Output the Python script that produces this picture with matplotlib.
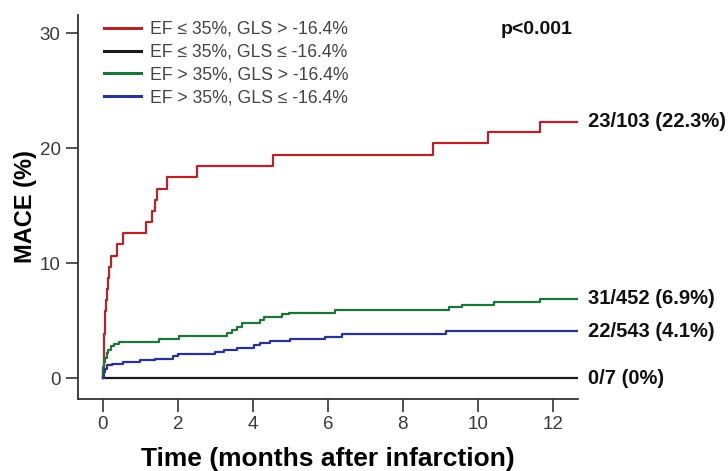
import matplotlib
matplotlib.use("Agg")
import matplotlib.pyplot as plt

plt.rcParams["font.family"] = ["Liberation Sans", "DejaVu Sans"]

# cumulative MACE (%) step curves
red_t = [0, 0.01, 0.02, 0.03, 0.04, 0.05, 0.07, 0.09, 0.11, 0.14, 0.17, 0.22, 0.39, 0.55,
         1.15, 1.31, 1.38, 1.44, 1.72, 2.52, 4.55, 8.8, 10.28, 11.66]
red_y = [0, 0.97, 1.94, 2.91, 3.88, 4.85, 5.83, 6.8, 7.77, 8.74, 9.71, 10.68, 11.65, 12.62,
         13.59, 14.56, 15.53, 16.5, 17.48, 18.45, 19.44, 20.45, 21.4, 22.3]

black_t = [0]
black_y = [0]

green_t = [0, 0.01, 0.03, 0.06, 0.1, 0.15, 0.22, 0.3, 0.42, 1.51, 2.02, 3.31, 3.44, 3.57,
           3.71, 4.2, 4.29, 4.78, 4.97, 6.2, 9.23, 9.59, 10.43, 11.66]
green_y = [0, 0.9, 1.42, 1.8, 2.2, 2.5, 2.8, 3.0, 3.17, 3.4, 3.66, 3.9, 4.18, 4.5,
           4.82, 5.1, 5.35, 5.55, 5.72, 5.93, 6.16, 6.36, 6.6, 6.9]

blue_t = [0, 0.02, 0.06, 0.12, 0.25, 0.55, 0.99, 1.39, 1.88, 2.0, 2.99, 3.22, 3.57, 4.02,
          4.2, 4.46, 4.99, 5.93, 6.37, 9.15]
blue_y = [0, 0.55, 0.84, 1.13, 1.28, 1.42, 1.57, 1.71, 1.92, 2.09, 2.29, 2.5, 2.64, 2.88,
          3.08, 3.25, 3.43, 3.6, 3.84, 4.1]

follow_up = 12.67

labels = ["EF \u2264 35%, GLS > -16.4%", "EF \u2264 35%, GLS \u2264 -16.4%",
          "EF > 35%, GLS > -16.4%", "EF > 35%, GLS \u2264 -16.4%"]
end_labels = ["23/103 (22.3%)", "0/7 (0%)", "31/452 (6.9%)", "22/543 (4.1%)"]
colors = ["#b5232b", "#1a1a1a", "#1f7438", "#2b3390"]

x_ticks = [0, 2, 4, 6, 8, 10, 12]
y_ticks = [0, 10, 20, 30]

fig = plt.figure(figsize=(7.28, 4.71), dpi=100)
ax = fig.add_axes([78 / 728, 72 / 471, 500 / 728, 384 / 471])

curves = [(red_t, red_y), (black_t, black_y), (green_t, green_y), (blue_t, blue_y)]
for (t, y), c, lab, end in zip(curves, colors, labels, end_labels):
    xs = list(t) + [follow_up]
    ys = list(y) + [y[-1]]
    ax.step(xs, ys, where="post", color=c, lw=1.6, label=lab, zorder=3)
    ax.annotate(end, (follow_up, y[-1]), xytext=(7, 0), textcoords="offset points",
                va="center", ha="left", fontsize=14.5, fontweight="bold",
                color="#111111", annotation_clip=False)

ax.set_xlim(-0.66, follow_up)
ax.set_ylim(-1.8, 31.6)
ax.set_xticks(x_ticks)
ax.set_yticks(y_ticks)
ax.tick_params(direction="out", length=9, width=1.2, labelsize=13.5,
               labelcolor="#3a3a3a", color="#333333")
for s in ["top", "right"]:
    ax.spines[s].set_visible(False)
for s in ["left", "bottom"]:
    ax.spines[s].set_linewidth(1.3)
    ax.spines[s].set_color("#333333")

ax.set_xlabel("Time (months after infarction)", fontsize=19, fontweight="bold", labelpad=10)
ax.set_ylabel("MACE (%)", fontsize=17, fontweight="bold", labelpad=2)

ax.text(573 / 728, 1 - 30 / 471, "p<0.001", transform=fig.transFigure, ha="right",
        va="center", fontsize=14, fontweight="bold", color="#111111")

leg = ax.legend(loc="upper left", bbox_to_anchor=(104 / 728, 1 - 21 / 471),
                bbox_transform=fig.transFigure, frameon=False, fontsize=12.7,
                handlelength=2.1, handletextpad=0.5, labelspacing=0.33,
                borderpad=0, borderaxespad=0)
for txt in leg.get_texts():
    txt.set_color("#444444")
for ln in leg.get_lines():
    ln.set_linewidth(2.2)

fig.savefig("out.png", dpi=100)
